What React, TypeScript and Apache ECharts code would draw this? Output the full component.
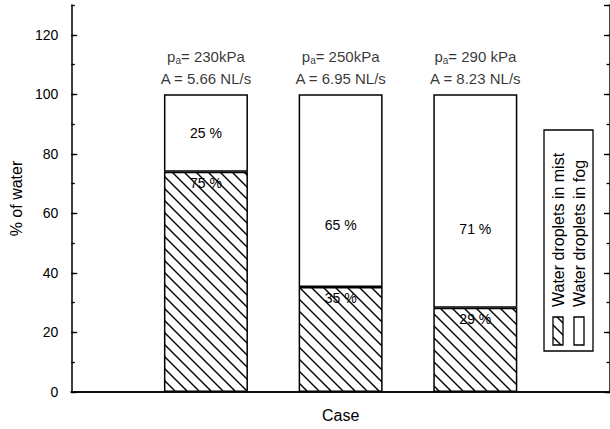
import React, { useEffect, useRef } from "react";
import * as echarts from "echarts";

const cases = ["Case 1", "Case 2", "Case 3"];
const pressureLabels = ["230kPa", "250kPa", "290 kPa"];
const flowLabels = ["5.66 NL/s", "6.95 NL/s", "8.23 NL/s"];
const mistValues = [74, 35.3, 28.3];
const fogValues = [26, 64.7, 71.7];
const mistLabels = ["75 %", "35 %", "29 %"];
const fogLabels = ["25 %", "65 %", "71 %"];
const fogLabelOffsets = [0, 34, 28];
const legendNames = ["Water droplets in mist", "Water droplets in fog"];

const FONT = "'Liberation Sans', Arial, sans-serif";

function makeHatch(): HTMLCanvasElement {
  const c = document.createElement("canvas");
  const s = 12;
  c.width = s;
  c.height = s;
  const ctx = c.getContext("2d")!;
  ctx.fillStyle = "#fff";
  ctx.fillRect(0, 0, s, s);
  ctx.strokeStyle = "#000";
  ctx.lineWidth = 1.4;
  for (const off of [-s, 0, s]) {
    ctx.beginPath();
    ctx.moveTo(off - 2, -2);
    ctx.lineTo(off + s + 2, s + 2);
    ctx.stroke();
  }
  return c;
}

export default function App() {
  const ref = useRef<HTMLDivElement>(null);
  useEffect(() => {
    document.body.style.margin = "0";
    const chart = echarts.init(ref.current!, null, { renderer: "svg" });
    const hatch = { image: makeHatch(), repeat: "repeat" } as any;

    // padded categories: an empty slot at each end of the axis
    const categories = ["", ...cases, " "];
    const pad = (arr: any[]) => ["-", ...arr, "-"];

    const baseY = {
      type: "value",
      min: 0,
      max: 130,
      splitLine: { show: false },
    };
    const tickStyle = { color: "#000", width: 1.3 };
    const yAxes = [
      {
        ...baseY,
        position: "left",
        interval: 20,
        name: "% of water",
        nameLocation: "middle",
        nameRotate: 90,
        nameGap: 44,
        nameTextStyle: { fontFamily: FONT, fontSize: 16, color: "#000" },
        axisLine: { show: true, lineStyle: { color: "#000", width: 1.5 } },
        axisTick: { show: true, inside: true, length: 6, lineStyle: tickStyle },
        axisLabel: { show: true, showMaxLabel: false, margin: 13, fontFamily: FONT, fontSize: 14, color: "#000" },
      },
      {
        ...baseY,
        position: "left",
        interval: 10,
        axisLine: { show: false },
        axisTick: { show: true, inside: true, length: 3.5, lineStyle: tickStyle },
        axisLabel: { show: false },
      },
      {
        ...baseY,
        position: "right",
        interval: 20,
        axisLine: { show: true, lineStyle: { color: "#000", width: 1.5 } },
        axisTick: { show: true, inside: true, length: 6, lineStyle: tickStyle },
        axisLabel: { show: false },
      },
      {
        ...baseY,
        position: "right",
        interval: 10,
        axisLine: { show: false },
        axisTick: { show: true, inside: true, length: 3.5, lineStyle: tickStyle },
        axisLabel: { show: false },
      },
    ];

    const option: any = {
      animation: false,
      backgroundColor: "#fff",
      grid: { left: 64, top: 5, width: 550, height: 387, containLabel: false },
      xAxis: [
        {
          type: "category",
          data: categories,
          boundaryGap: false,
          position: "bottom",
          name: "Case",
          nameLocation: "middle",
          nameGap: 15,
          nameTextStyle: { fontFamily: FONT, fontSize: 16, color: "#000" },
          axisLine: { show: true, lineStyle: { color: "#000", width: 1.5 } },
          axisTick: { show: false },
          axisLabel: { show: false },
          splitLine: { show: false },
        },
        {
          type: "category",
          data: categories,
          boundaryGap: false,
          position: "top",
          axisLine: { show: true, lineStyle: { color: "#000", width: 1.5 } },
          axisTick: { show: false },
          axisLabel: { show: false },
          splitLine: { show: false },
        },
      ],
      yAxis: yAxes,
      series: [
        {
          type: "bar",
          name: legendNames[0],
          stack: "total",
          barWidth: 84,
          data: pad(
            mistValues.map((v, i) => ({
              value: v,
              label: { formatter: mistLabels[i] },
            }))
          ),
          itemStyle: { color: hatch, borderColor: "#000", borderWidth: 1.5 },
          label: {
            show: true,
            position: "insideTop",
            distance: 4,
            fontFamily: FONT,
            fontSize: 14,
            color: "#000",
          },
        },
        {
          type: "bar",
          name: legendNames[1],
          stack: "total",
          barWidth: 84,
          data: pad(
            fogValues.map((v, i) => ({
              value: v,
              label: { formatter: fogLabels[i], offset: [0, fogLabelOffsets[i]] },
            }))
          ),
          itemStyle: { color: "#fff", borderColor: "#000", borderWidth: 1.5 },
          label: {
            show: true,
            position: "inside",
            fontFamily: FONT,
            fontSize: 14,
            color: "#000",
          },
        },
        {
          type: "scatter",
          symbolSize: 0,
          silent: true,
          data: pad(
            mistValues.map((v, i) => ({
              value: v + fogValues[i],
              label: {
                formatter: `{p|p}{s|a}{p|= ${pressureLabels[i]}}\n{p|A = ${flowLabels[i]}}`,
              },
            }))
          ),
          label: {
            show: true,
            position: "top",
            distance: 5,
            align: "center",
            rich: {
              p: { fontFamily: FONT, fontSize: 15, color: "#000", lineHeight: 22 },
              s: { fontFamily: FONT, fontSize: 10, color: "#000", lineHeight: 22, padding: [9, 0, 0, 0] },
            },
          },
        },
      ],
      graphic: [
        {
          type: "rect",
          shape: { x: 544, y: 130, width: 49, height: 221 },
          style: { fill: "#fff", stroke: "#000", lineWidth: 1.3 },
        },
        {
          type: "rect",
          shape: { x: 553, y: 317, width: 10, height: 28 },
          style: { fill: hatch, stroke: "#000", lineWidth: 1.3 },
        },
        {
          type: "rect",
          shape: { x: 574, y: 317, width: 10, height: 28 },
          style: { fill: "#fff", stroke: "#000", lineWidth: 1.3 },
        },
        {
          type: "text",
          x: 558,
          y: 307,
          rotation: Math.PI / 2,
          style: {
            text: legendNames[0],
            fontFamily: FONT,
            fontSize: 16,
            fill: "#000",
            align: "left",
            verticalAlign: "middle",
          },
        },
        {
          type: "text",
          x: 579,
          y: 307,
          rotation: Math.PI / 2,
          style: {
            text: legendNames[1],
            fontFamily: FONT,
            fontSize: 16,
            fill: "#000",
            align: "left",
            verticalAlign: "middle",
          },
        },
      ],
    };
    chart.setOption(option);
    return () => chart.dispose();
  }, []);
  return (
    <div
      ref={ref}
      style={{ position: "absolute", left: 0, top: 0, width: 610, height: 429 }}
    />
  );
}
